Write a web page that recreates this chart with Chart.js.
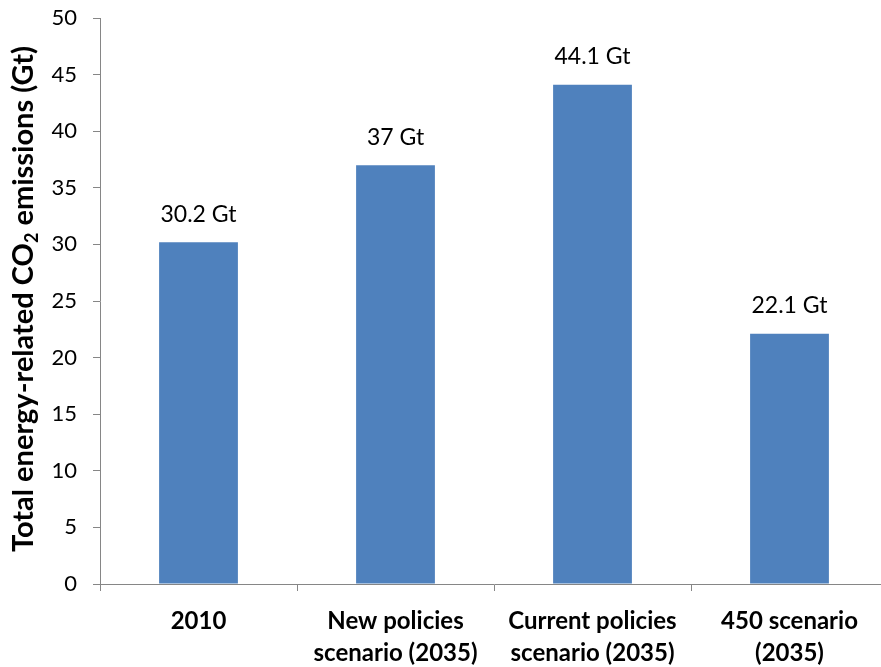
<!DOCTYPE html>
<html>
<head>
<meta charset="utf-8">
<script src="https://cdn.jsdelivr.net/npm/chart.js@4/dist/chart.umd.min.js"></script>
<style>
  html,body{margin:0;padding:0;background:#fff;overflow:hidden}
  #wrap{width:890px;height:667px;position:relative}
</style>
</head>
<body>
<div id="wrap"><canvas id="ch-co2"></canvas></div>
<script>
// ── data ──────────────────────────────────────────────
const categories=[['2010'],['New policies','scenario (2035)'],['Current policies','scenario (2035)'],['450 scenario','(2035)']];
const emissions=[30.2,37,44.1,22.1];
const unit='Gt';
const yTicks={min:0,max:50,step:5};

const FONT="Lato, 'Open Sans', sans-serif";
const AXIS='#868686';

// value labels above each bar
const barLabels={
  id:'barLabels',
  afterDatasetsDraw(chart){
    const {ctx}=chart;
    const meta=chart.getDatasetMeta(0);
    ctx.save();
    ctx.font='23px '+FONT;
    ctx.fillStyle='#000';
    ctx.textAlign='center';
    ctx.textBaseline='middle';
    meta.data.forEach((bar,i)=>{
      ctx.fillText(emissions[i]+' '+unit,bar.x,bar.y-28);
    });
    ctx.restore();
  }
};

// rotated y title with CO2 subscript
const yTitle={
  id:'yTitle',
  afterDraw(chart){
    const {ctx}=chart;
    const parts=[['Total energy-related CO',false],['2',true],[' emissions (Gt)',false]];
    const big='bold 29px '+FONT, small='bold 18px '+FONT;
    ctx.save();
    let w=0;
    parts.forEach(([t,sub])=>{ctx.font=sub?small:big; w+=ctx.measureText(t).width;});
    ctx.translate(24,299);
    ctx.rotate(-Math.PI/2);
    ctx.fillStyle='#000';
    ctx.textBaseline='middle';
    ctx.textAlign='left';
    let x=-w/2;
    parts.forEach(([t,sub])=>{
      ctx.font=sub?small:big;
      ctx.fillText(t,x,sub?8:0);
      x+=ctx.measureText(t).width;
    });
    ctx.restore();
  }
};

new Chart(document.getElementById('ch-co2'),{
  type:'bar',
  data:{
    labels:categories,
    datasets:[{
      data:emissions,
      backgroundColor:'#4F81BD',
      borderWidth:0,
      categoryPercentage:1,
      barPercentage:0.4
    }]
  },
  options:{
    responsive:true,maintainAspectRatio:false,animation:false,
    layout:{padding:{top:18,right:2,left:0,bottom:0}},
    plugins:{legend:{display:false},tooltip:{enabled:false}},
    scales:{
      x:{
        grid:{display:true,drawOnChartArea:false,offset:true,color:AXIS,tickLength:7},
        border:{color:AXIS,width:1},
        ticks:{color:'#000',font:{family:FONT,size:24,weight:'bold',lineHeight:1.3},padding:15,maxRotation:0,autoSkip:false},
        afterFit(s){s.height=83;s.paddingLeft=0;s.paddingRight=0;}
      },
      y:{
        min:yTicks.min,max:yTicks.max,
        grid:{display:true,drawOnChartArea:false,color:AXIS,tickLength:7},
        border:{color:AXIS,width:1},
        ticks:{stepSize:yTicks.step,color:'#000',font:{family:FONT,size:22},padding:16},
        afterFit(s){s.width=100;s.paddingTop=0;s.paddingBottom=0;}
      }
    }
  },
  plugins:[barLabels,yTitle]
});
</script>
</body>
</html>
